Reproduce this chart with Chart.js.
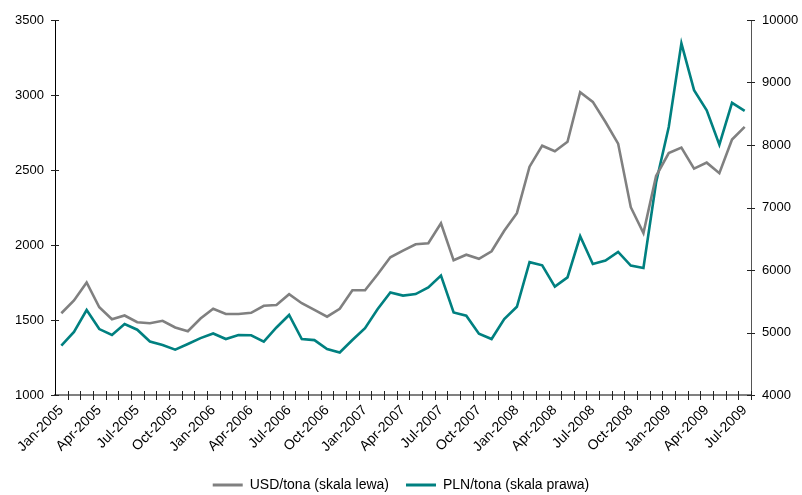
<!DOCTYPE html>
<html>
<head>
<meta charset="utf-8">
<script src="https://cdn.jsdelivr.net/npm/chart.js@4"></script>
<style>
  html, body { margin: 0; padding: 0; background: #fff; }
  #wrap { width: 802px; height: 495px; }
</style>
</head>
<body>
<div id="wrap"><canvas id="priceChart" width="802" height="495"></canvas></div>
<script>
const months = [
  'Jan-2005','Feb-2005','Mar-2005','Apr-2005','May-2005','Jun-2005','Jul-2005','Aug-2005','Sep-2005','Oct-2005','Nov-2005','Dec-2005',
  'Jan-2006','Feb-2006','Mar-2006','Apr-2006','May-2006','Jun-2006','Jul-2006','Aug-2006','Sep-2006','Oct-2006','Nov-2006','Dec-2006',
  'Jan-2007','Feb-2007','Mar-2007','Apr-2007','May-2007','Jun-2007','Jul-2007','Aug-2007','Sep-2007','Oct-2007','Nov-2007','Dec-2007',
  'Jan-2008','Feb-2008','Mar-2008','Apr-2008','May-2008','Jun-2008','Jul-2008','Aug-2008','Sep-2008','Oct-2008','Nov-2008','Dec-2008',
  'Jan-2009','Feb-2009','Mar-2009','Apr-2009','May-2009','Jun-2009','Jul-2009'
];

// USD/tona, left scale
const usdTona = [
  1545, 1630, 1750, 1585, 1505, 1530, 1485, 1478, 1495, 1450, 1425, 1510,
  1575, 1540, 1540, 1548, 1595, 1600, 1672, 1612, 1568, 1522, 1575, 1698,
  1698, 1805, 1918, 1962, 2005, 2012, 2145, 1898, 1935, 1908, 1958, 2095,
  2212, 2522, 2662, 2625, 2688, 3018, 2954, 2820, 2676, 2252, 2080, 2460,
  2613, 2649, 2509, 2549, 2479, 2703, 2787
];

// PLN/tona, right scale
const plnTona = [
  4790, 5010, 5360, 5055, 4960, 5135, 5045, 4855, 4800, 4725, 4815, 4910,
  4985, 4895, 4958, 4955, 4855, 5080, 5280, 4895, 4878, 4735, 4680, 4880,
  5070, 5375, 5640, 5590, 5615, 5722, 5910, 5320, 5268, 4980, 4895, 5215,
  5412, 6125, 6075, 5735, 5882, 6540, 6097, 6150, 6290, 6070, 6033, 7400,
  8289, 9627, 8877, 8556, 8006, 8674, 8546
];

const leftTicks = [1000, 1500, 2000, 2500, 3000, 3500];
const rightTicks = [4000, 5000, 6000, 7000, 8000, 9000, 10000];

const FONT = 'Liberation Sans, Arial, sans-serif';

// excel-style tick marks that cross the axis line
const crossTicks = {
  id: 'crossTicks',
  afterDraw(chart) {
    const c = chart.ctx;
    const x = chart.scales.x;
    const yl = chart.scales.yLeft;
    const yr = chart.scales.yRight;
    c.save();
    c.lineWidth = 1;
    c.strokeStyle = '#222';
    c.beginPath();
    const n = chart.data.labels.length;
    const step = (x.right - x.left) / n;
    for (let k = 1; k <= n; k++) {
      const px = Math.round(x.left + k * step) + 0.5;
      c.moveTo(px, x.top - 4);
      c.lineTo(px, x.top + 5);
    }
    yl.ticks.forEach(t => {
      const py = Math.round(yl.getPixelForValue(t.value)) + 0.5;
      c.moveTo(yl.right - 4, py);
      c.lineTo(yl.right + 4, py);
    });
    yr.ticks.forEach(t => {
      const py = Math.round(yr.getPixelForValue(t.value)) + 0.5;
      c.moveTo(yr.left - 4, py);
      c.lineTo(yr.left + 4, py);
    });
    c.stroke();
    c.restore();
  },
};

const ctx = document.getElementById('priceChart').getContext('2d');

const priceChart = new Chart(ctx, {
  type: 'line',
  data: {
    labels: months,
    datasets: [
      {
        label: 'USD/tona (skala lewa)',
        data: usdTona,
        borderColor: '#808080',
        backgroundColor: '#808080',
        borderWidth: 2.6,
        pointRadius: 0,
        tension: 0,
        yAxisID: 'yLeft',
      },
      {
        label: 'PLN/tona (skala prawa)',
        data: plnTona,
        borderColor: '#008080',
        backgroundColor: '#008080',
        borderWidth: 2.6,
        pointRadius: 0,
        tension: 0,
        yAxisID: 'yRight',
      },
    ],
  },
  options: {
    responsive: false,
    animation: false,
    layout: { padding: { top: 20, right: 0, left: 0, bottom: -7 } },
    plugins: {
      tooltip: { enabled: false },
      legend: {
        display: true,
        position: 'bottom',
        labels: {
          color: '#000',
          font: { family: FONT, size: 14, lineHeight: 1 },
          boxWidth: 30,
          boxHeight: 3,
          padding: 17,
          generateLabels(chart) {
            const items = Chart.defaults.plugins.legend.labels.generateLabels(chart);
            items.forEach(it => { it.lineWidth = 0; });
            return items;
          },
        },
      },
    },
    scales: {
      x: {
        type: 'category',
        offset: true,
        border: { color: '#808080', width: 2 },
        grid: {
          offset: true,
          drawOnChartArea: false,
          drawTicks: true,
          tickLength: 5,
          color: 'rgba(0,0,0,0)',
        },
        ticks: {
          autoSkip: false,
          maxRotation: 45,
          minRotation: 45,
          padding: 2,
          color: '#000',
          font: { family: FONT, size: 14 },
          callback(val, idx) {
            return idx % 3 === 0 ? months[idx] : '';
          },
        },
        afterFit(scale) { scale.height = 66; },
      },
      yLeft: {
        type: 'linear',
        position: 'left',
        min: leftTicks[0],
        max: leftTicks[leftTicks.length - 1],
        afterBuildTicks(scale) { scale.ticks = leftTicks.map(v => ({ value: v })); },
        border: { color: '#000', width: 1 },
        grid: { drawOnChartArea: false, tickLength: 6, color: 'rgba(0,0,0,0)' },
        ticks: {
          color: '#000', padding: 5, font: { family: FONT, size: 13 },
          callback: v => String(v),
        },
        afterFit(scale) { scale.width = 55; },
      },
      yRight: {
        type: 'linear',
        position: 'right',
        min: rightTicks[0],
        max: rightTicks[rightTicks.length - 1],
        afterBuildTicks(scale) { scale.ticks = rightTicks.map(v => ({ value: v })); },
        border: { color: '#555', width: 1 },
        grid: { drawOnChartArea: false, tickLength: 6, color: 'rgba(0,0,0,0)' },
        ticks: {
          color: '#000', padding: 5, font: { family: FONT, size: 13 },
          callback: v => String(v),
        },
        afterFit(scale) { scale.width = 51; },
      },
    },
  },
  plugins: [crossTicks],
});
</script>
</body>
</html>
